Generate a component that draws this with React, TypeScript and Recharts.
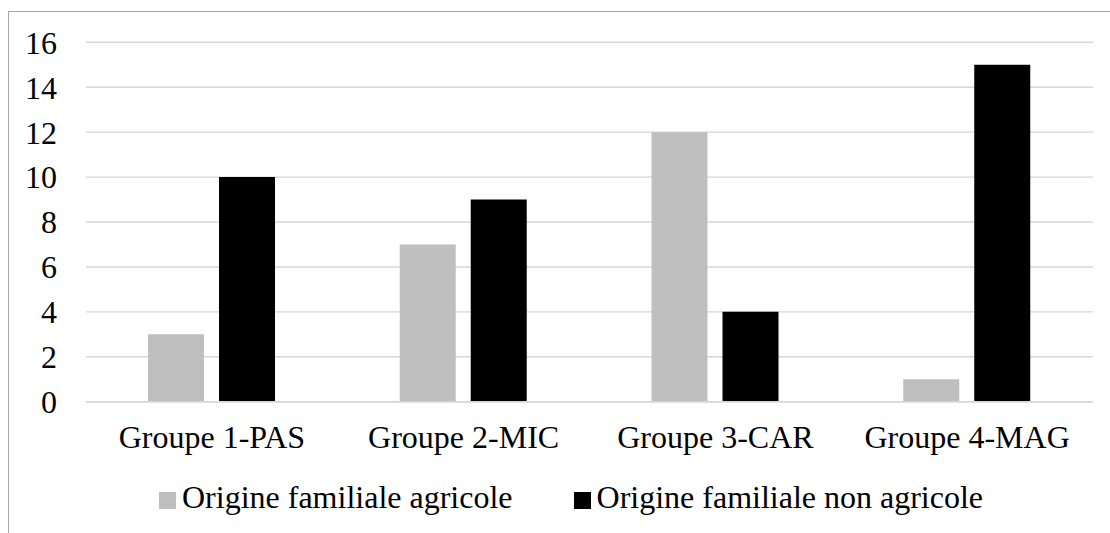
import React from 'react';
import { BarChart, Bar, XAxis, YAxis, CartesianGrid, Legend } from 'recharts';

const categories = ['Groupe 1-PAS', 'Groupe 2-MIC', 'Groupe 3-CAR', 'Groupe 4-MAG'];
const agricole = [3, 7, 12, 1];
const nonAgricole = [10, 9, 4, 15];
const yTicks = [0, 2, 4, 6, 8, 10, 12, 14, 16];
const seriesNames = ['Origine familiale agricole', 'Origine familiale non agricole'];
const seriesColors = ['#bfbfbf', '#000000'];

const data = categories.map((c, i) => ({
  name: c,
  agricole: agricole[i],
  nonAgricole: nonAgricole[i],
}));

const FONT = 'Liberation Serif, Times New Roman, Tinos, DejaVu Serif, serif';

const LegendContent = () => (
  <div
    style={{
      height: 54,
      display: 'flex',
      alignItems: 'flex-start',
      paddingLeft: 159,
      boxSizing: 'border-box',
      fontFamily: FONT,
      fontSize: 32,
      lineHeight: '36px',
      color: '#000',
      whiteSpace: 'nowrap',
    }}
  >
    {seriesNames.map((n, i) => (
      <div key={n} style={{ display: 'flex', alignItems: 'center', marginRight: i === 0 ? 61 : 0 }}>
        <span
          style={{
            display: 'inline-block',
            width: 17,
            height: 17,
            background: seriesColors[i],
            marginRight: 6,
            marginTop: 6,
          }}
        />
        <span>{n}</span>
      </div>
    ))}
  </div>
);

export default function App() {
  return (
    <div
      style={{
        position: 'fixed',
        left: 0,
        top: 0,
        width: 1110,
        height: 533,
        overflow: 'hidden',
        background: '#fff',
        fontFamily: FONT,
      }}
    >
      <div
        style={{
          position: 'absolute',
          left: 8,
          top: 11,
          width: 1400,
          height: 800,
          border: '1px solid #a8a8a8',
        }}
      />
      <div style={{ position: 'absolute', left: 0, top: 0 }}>
        <BarChart
          width={1110}
          height={533}
          data={data}
          margin={{ top: 42.3, right: 17, bottom: 0, left: 0 }}
          barSize={56}
          barGap={15}
          style={{ fontFamily: FONT }}
        >
          <CartesianGrid vertical={false} stroke="#d6d6d6" strokeWidth={1.4} />
          <XAxis
            dataKey="name"
            height={77.3}
            tickLine={false}
            axisLine={{ stroke: '#d6d6d6', strokeWidth: 1.4 }}
            tickSize={6}
            tickMargin={18}
            tick={{ fill: '#000', fontFamily: FONT, fontSize: 32 }}
            interval={0}
          />
          <YAxis
            width={86}
            domain={[0, 16]}
            ticks={yTicks}
            axisLine={false}
            tickLine={false}
            tickSize={6}
            tickMargin={23}
            tick={{ fill: '#000', fontFamily: FONT, fontSize: 32 }}
            interval={0}
          />
          <Legend
            verticalAlign="bottom"
            content={<LegendContent />}
            wrapperStyle={{ left: 0, width: 1110 }}
          />
          <Bar dataKey="agricole" name={seriesNames[0]} fill={seriesColors[0]} isAnimationActive={false} />
          <Bar dataKey="nonAgricole" name={seriesNames[1]} fill={seriesColors[1]} isAnimationActive={false} />
        </BarChart>
      </div>
    </div>
  );
}
